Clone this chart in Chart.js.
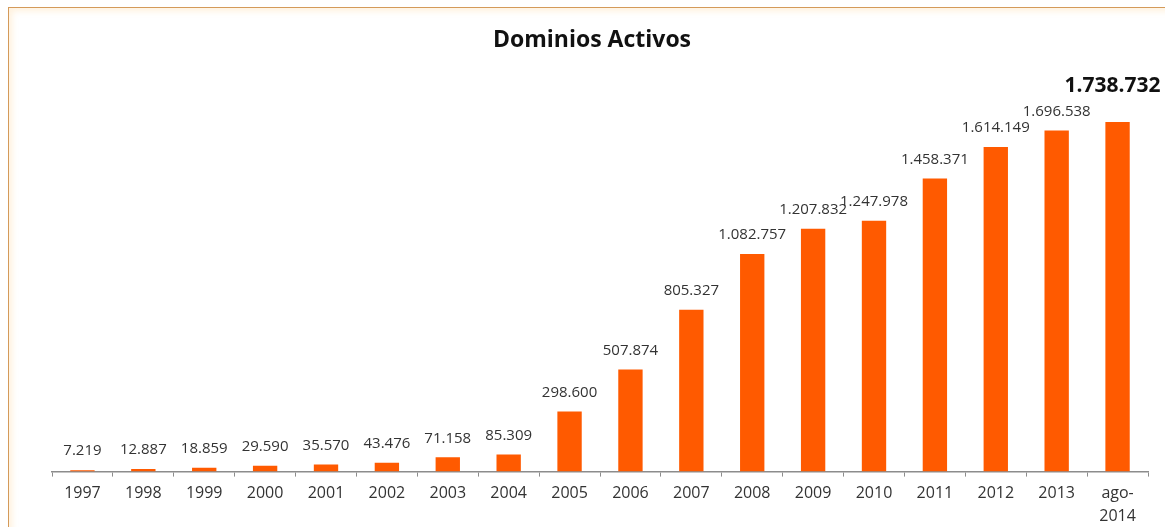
<!DOCTYPE html>
<html>
<head>
<meta charset="utf-8">
<script src="https://cdn.jsdelivr.net/npm/chart.js@4/dist/chart.umd.min.js"></script>
<style>
  html, body { margin: 0; padding: 0; background: #fff; overflow: hidden; }
  #wrap { position: relative; width: 1165px; height: 527px; }
  #frame {
    position: absolute; left: 8px; top: 7px; width: 1200px; height: 600px;
    border-left: 1.5px solid #d49a5a; border-top: 1.5px solid #d49a5a;
    box-shadow: inset 3px 3px 6px rgba(255, 200, 120, 0.25);
    pointer-events: none;
  }
  canvas { position: absolute; left: 0; top: 0; }
</style>
</head>
<body>
<div id="wrap">
  <div id="frame"></div>
  <canvas id="chart" width="1165" height="527"></canvas>
</div>
<script>
  // Active domains per year; last column is August 2014.
  var years = ["1997", "1998", "1999", "2000", "2001", "2002", "2003", "2004", "2005",
    "2006", "2007", "2008", "2009", "2010", "2011", "2012", "2013", ["ago-", "2014"]];
  var domains = [7219, 12887, 18859, 29590, 35570, 43476, 71158, 85309, 298600,
    507874, 805327, 1082757, 1207832, 1247978, 1458371, 1614149, 1696538, 1738732];
  var title = "Dominios Activos";

  var ORANGE = "#ff5a00";

  function miles(n) {
    return String(n).replace(/\B(?=(\d{3})+(?!\d))/g, ".");
  }

  // Value labels above each bar (the latest one larger and bold), plus the
  // title, which sits a little left of the plot centre in the original.
  var valueLabels = {
    id: "valueLabels",
    afterDatasetsDraw: function (chart) {
      var ctx = chart.ctx;
      var meta = chart.getDatasetMeta(0);
      var last = meta.data.length - 1;
      ctx.save();
      ctx.textAlign = "center";
      ctx.textBaseline = "middle";
      meta.data.forEach(function (bar, i) {
        var txt = miles(domains[i]);
        if (i === last) {
          ctx.font = "bold 21px 'Open Sans'";
          ctx.fillStyle = "#111";
          ctx.fillText(txt, bar.x - 5, bar.y - 36);
        } else {
          ctx.font = "15px 'Open Sans'";
          ctx.fillStyle = "#333";
          ctx.fillText(txt, bar.x, bar.y - 19);
        }
      });
      ctx.font = "bold 23px 'Open Sans'";
      ctx.fillStyle = "#111";
      ctx.fillText(title, 592, 40);
      ctx.restore();
    },
  };

  new Chart(document.getElementById("chart"), {
    type: "bar",
    data: {
      labels: years,
      datasets: [{
        data: domains,
        backgroundColor: ORANGE,
        barPercentage: 0.5,
        categoryPercentage: 0.8,
      }],
    },
    plugins: [valueLabels],
    options: {
      responsive: false,
      animation: false,
      layout: { padding: { left: 52, right: 17, top: 78, bottom: -6 } },
      plugins: {
        legend: { display: false },
        tooltip: { enabled: false },
        title: { display: false },
      },
      scales: {
        x: {
          offset: true,
          grid: { offset: true, drawOnChartArea: false, drawTicks: true, tickLength: 5, color: "#8c8c8c" },
          border: { display: true, color: "#8c8c8c", width: 1.5 },
          ticks: {
            color: "#333",
            padding: 5,
            maxRotation: 0,
            autoSkip: false,
            font: { family: "'Open Sans'", size: 16, lineHeight: 1.45 },
          },
        },
        y: {
          display: false,
          min: 0,
          max: 1958000,
        },
      },
    },
  });
</script>
</body>
</html>
